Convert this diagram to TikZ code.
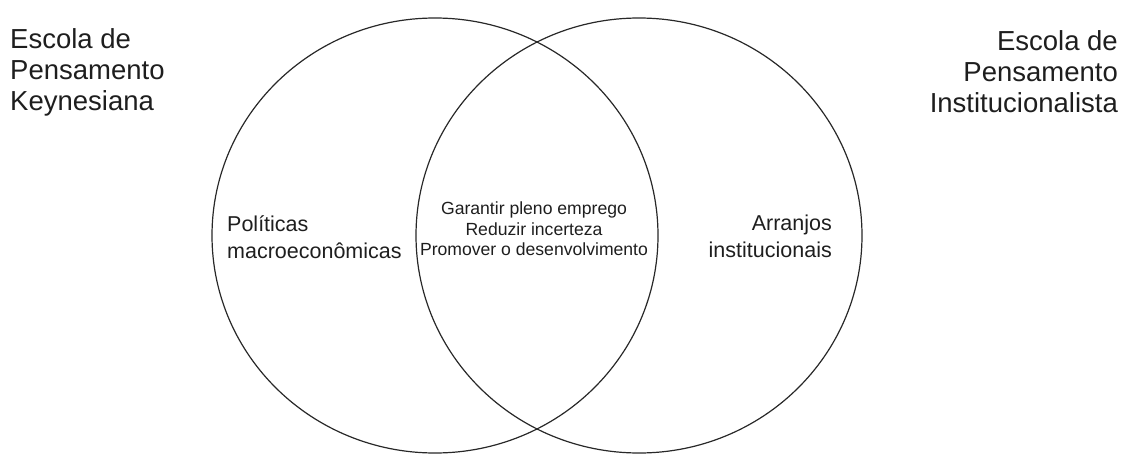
\documentclass[tikz,border=0pt]{standalone}
\usepackage{fontspec}
\setmainfont{Liberation Sans}
\usetikzlibrary{shapes.geometric}
\definecolor{linegray}{RGB}{40,40,40}
\definecolor{textgray}{RGB}{30,30,30}
\tikzset{
  setcircle/.style={
    ellipse,
    draw=linegray,
    line width=1.2pt,
    minimum width=446pt,
    minimum height=435pt,
    inner sep=0pt
  },
  schoolname/.style={inner sep=0pt, text=textgray, font=\fontsize{27.5}{31}\selectfont},
  setname/.style={inner sep=0pt, text=textgray, font=\fontsize{21.5}{27}\selectfont},
  sharedgoal/.style={inner sep=0pt, text=textgray, align=center, font=\fontsize{17.6}{20.5}\selectfont}
}
\begin{document}
\begin{tikzpicture}[x=1pt, y=-1pt]
        \useasboundingbox (0,0) rectangle (1126,455);
        \node[setcircle] (keynes) at (435,235.5) {};
        \node[setcircle] (inst) at (639,235.5) {};
        \node[schoolname, anchor=west, align=left] (keynesname) at (10,72) {Escola de\\Pensamento\\Keynesiana};
        \node[schoolname, anchor=east, align=right] (instname) at (1118,72) {Escola de\\Pensamento\\Institucionalista};
        \node[setname, anchor=west, align=left] (macro) at (227,237) {Políticas\\macroeconômicas};
        \node[setname, anchor=east, align=right] (arranjos) at (832,236) {Arranjos\\institucionais};
        \node[sharedgoal] (goals) at (534,229) {Garantir pleno emprego\\Reduzir incerteza\\Promover o desenvolvimento};
      \end{tikzpicture}
\end{document}
